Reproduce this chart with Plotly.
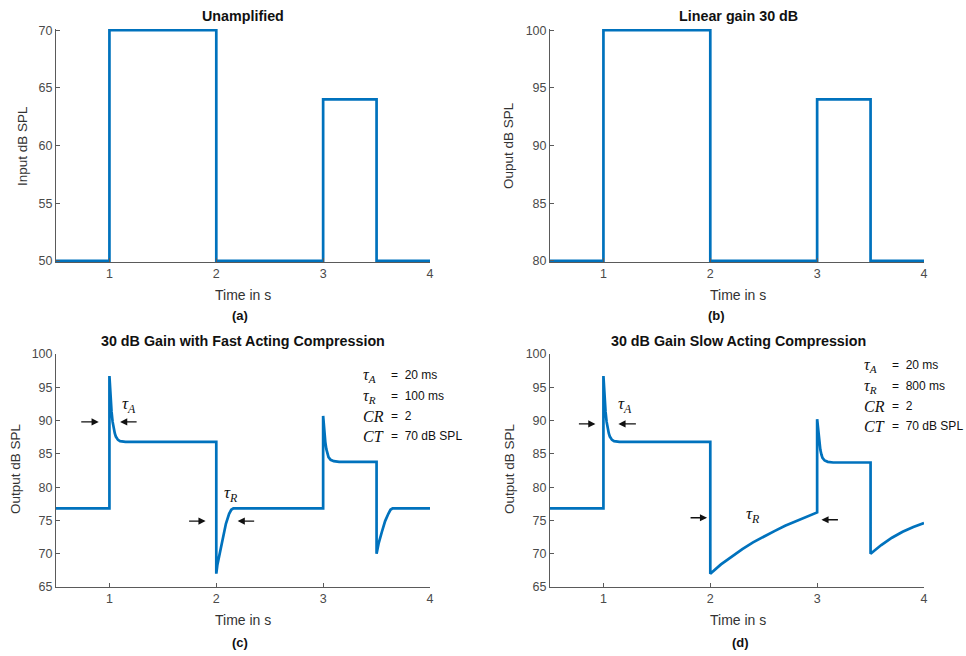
import plotly.graph_objects as go

# ---------------- data ----------------
t_step = [0.5, 1.0, 1.0, 2.0, 2.0, 3.0, 3.0, 3.5, 3.5, 4.0]
input_db = [50, 50, 70, 70, 50, 50, 64, 64, 50, 50]
linear_db = [80, 80, 100, 100, 80, 80, 94, 94, 80, 80]

t_fast = [0.5, 1.0, 1.0, 1.01, 1.02, 1.03, 1.04, 1.05, 1.06, 1.08, 1.10, 1.15,
          2.0, 2.0, 2.01, 2.03, 2.06, 2.09, 2.12, 2.14, 2.16,
          3.0, 3.0, 3.01, 3.02, 3.03, 3.04, 3.05, 3.07, 3.10, 3.15,
          3.5, 3.5, 3.52, 3.55, 3.58, 3.61, 3.63, 3.65, 4.0]
fast_db = [76.8, 76.8, 96.7, 93.5, 91.3, 89.8, 88.8, 88.1, 87.6, 87.1, 86.9, 86.8,
           86.8, 67.0, 68.3, 70.0, 72.5, 74.5, 76.0, 76.6, 76.8,
           76.8, 90.7, 88.5, 86.8, 85.7, 85.0, 84.5, 84.1, 83.9, 83.8,
           83.8, 70.0, 71.6, 73.3, 74.9, 76.0, 76.6, 76.8, 76.8]

t_slow = [0.5, 1.0, 1.0, 1.01, 1.02, 1.03, 1.04, 1.05, 1.06, 1.08, 1.10, 1.15,
          2.0, 2.0, 2.1, 2.2, 2.3, 2.4, 2.5, 2.6, 2.7, 2.8, 2.9,
          3.0, 3.0, 3.01, 3.02, 3.03, 3.04, 3.05, 3.07, 3.10, 3.15,
          3.5, 3.5, 3.6, 3.7, 3.8, 3.9, 4.0]
slow_db = [76.8, 76.8, 96.7, 93.5, 91.3, 89.8, 88.8, 88.1, 87.6, 87.1, 86.9, 86.8,
           86.8, 67.0, 68.4, 69.6, 70.7, 71.7, 72.6, 73.4, 74.2, 74.9, 75.6,
           76.2, 90.2, 88.2, 86.6, 85.6, 84.9, 84.4, 84.0, 83.8, 83.7,
           83.7, 70.0, 71.3, 72.4, 73.3, 74.0, 74.6]

x_ticks = [1, 2, 3, 4]
y_ticks_a = [50, 55, 60, 65, 70]
y_ticks_b = [80, 85, 90, 95, 100]
y_ticks_cd = [65, 70, 75, 80, 85, 90, 95, 100]

titles = ["Unamplified", "Linear gain 30 dB",
          "30 dB Gain with Fast Acting Compression", "30 dB Gain Slow Acting Compression"]
y_titles = ["Input dB SPL", "Ouput dB SPL", "Output dB SPL", "Output dB SPL"]
sub_labels = ["(a)", "(b)", "(c)", "(d)"]
param_names = ["<i>τ</i><sub><i>A</i></sub>", "<i>τ</i><sub><i>R</i></sub>", "<i>CR</i>", "<i>CT</i>"]
params_fast = ["=  20 ms", "=  100 ms", "=  2", "=  70 dB SPL"]
params_slow = ["=  20 ms", "=  800 ms", "=  2", "=  70 dB SPL"]

# ---------------- layout helpers ----------------
W, H = 966, 656
def PX(p):
    return p / W
def PY(p):
    return 1 - p / H

BLUE = "#0072BD"
AX = "#5a5a5a"
SANS = "Liberation Sans, Arial, sans-serif"
SERIF = "Liberation Serif, Times New Roman, serif"

fig = go.Figure()
series = [(t_step, input_db), (t_step, linear_db), (t_fast, fast_db), (t_slow, slow_db)]
for i, (t, v) in enumerate(series):
    sfx = "" if i == 0 else str(i + 1)
    fig.add_trace(go.Scatter(x=t, y=v, mode="lines", xaxis="x" + sfx, yaxis="y" + sfx,
                             line=dict(color=BLUE, width=2.7), showlegend=False,
                             hoverinfo="skip"))

xdom_l = [PX(56), PX(430)]
xdom_r = [PX(550), PX(924)]
ydom_t = [PY(262), PY(29)]
ydom_b = [PY(587), PY(354)]

def xax(dom, anchor):
    return dict(domain=dom, anchor=anchor, range=[0.5, 4], tickvals=x_ticks,
                showline=True, linecolor=AX, linewidth=1, ticks="inside", ticklen=4,
                tickcolor=AX, showgrid=False, zeroline=False,
                tickfont=dict(family=SANS, size=12.5, color="#4a4a4a"))

def yax(dom, anchor, rng, tv):
    return dict(domain=dom, anchor=anchor, range=rng, tickvals=tv,
                showline=True, linecolor=AX, linewidth=1, ticks="inside", ticklen=4,
                tickcolor=AX, showgrid=False, zeroline=False,
                tickfont=dict(family=SANS, size=12.5, color="#4a4a4a"))

fig.update_layout(
    width=W, height=H, margin=dict(l=0, r=0, t=0, b=0, pad=0, autoexpand=False),
    paper_bgcolor="white", plot_bgcolor="white",
    xaxis=xax(xdom_l, "y"), yaxis=yax(ydom_t, "x", [49.9, 70.1], y_ticks_a),
    xaxis2=xax(xdom_r, "y2"), yaxis2=yax(ydom_t, "x2", [79.9, 100.1], y_ticks_b),
    xaxis3=xax(xdom_l, "y3"), yaxis3=yax(ydom_b, "x3", [65, 100], y_ticks_cd),
    xaxis4=xax(xdom_r, "y4"), yaxis4=yax(ydom_b, "x4", [65, 100], y_ticks_cd),
)

ann = []
def text(x, y, s, size=13, family=SANS, color="#222", angle=0, xanchor="center"):
    ann.append(dict(x=PX(x), y=PY(y), xref="paper", yref="paper", text=s,
                    showarrow=False, textangle=angle, xanchor=xanchor, yanchor="middle",
                    font=dict(family=family, size=size, color=color)))

cx = [243, 738, 243, 738]
title_y = [16, 16, 341, 341]
xt_y = [295, 295, 620, 620]
yt_x = [23, 509, 15, 509]
yt_y = [146, 146, 469, 469]
sub_x = [240, 716, 240, 740]
sub_y = [315, 315, 642, 642]
for i in range(4):
    text(cx[i], title_y[i], "<b>" + titles[i] + "</b>", size=14.3, color="#111")
    text(cx[i], xt_y[i], "Time in s", size=14, color="#333")
    text(yt_x[i], yt_y[i], y_titles[i], size=13.5, color="#333", angle=-90)
    text(sub_x[i], sub_y[i], "<b>" + sub_labels[i] + "</b>", size=13, color="#111")

# parameter blocks
rows_c = [375, 396, 416, 436]
rows_d = [365, 386, 406, 426]
for k in range(4):
    text(361, rows_c[k], param_names[k], size=16, family=SERIF, color="#111", xanchor="left")
    text(389, rows_c[k], params_fast[k], size=12, color="#111", xanchor="left")
    text(862, rows_d[k], param_names[k], size=16, family=SERIF, color="#111", xanchor="left")
    text(890, rows_d[k], params_slow[k], size=12, color="#111", xanchor="left")

# tau labels in data coordinates
def dlabel(xr, yr, x, y, s):
    ann.append(dict(x=x, y=y, xref=xr, yref=yr, text=s, showarrow=False,
                    font=dict(family=SERIF, size=17, color="#111")))

dlabel("x3", "y3", 1.18, 92.3, param_names[0])
dlabel("x3", "y3", 2.14, 78.9, param_names[1])
dlabel("x4", "y4", 1.20, 92.3, param_names[0])
dlabel("x4", "y4", 2.40, 75.8, param_names[1])

def arrow(xr, yr, x, y, ax):
    ann.append(dict(x=x, y=y, xref=xr, yref=yr, text="", showarrow=True,
                    ax=ax, ay=0, arrowhead=2, arrowsize=1.1, arrowwidth=1.3,
                    arrowcolor="#111", standoff=0, startstandoff=0))

arrow("x3", "y3", 0.90, 89.8, -19)
arrow("x3", "y3", 1.10, 89.8, 18)
arrow("x3", "y3", 1.90, 74.9, -18)
arrow("x3", "y3", 2.20, 74.9, 18)
arrow("x4", "y4", 0.925, 89.5, -18)
arrow("x4", "y4", 1.14, 89.5, 19)
arrow("x4", "y4", 1.97, 75.4, -18)
arrow("x4", "y4", 3.04, 75.1, 18)

fig.update_layout(annotations=ann)
fig.write_html("out.html", config={"displayModeBar": False},
               post_script="document.body.style.margin='0';document.body.style.overflow='hidden';")
